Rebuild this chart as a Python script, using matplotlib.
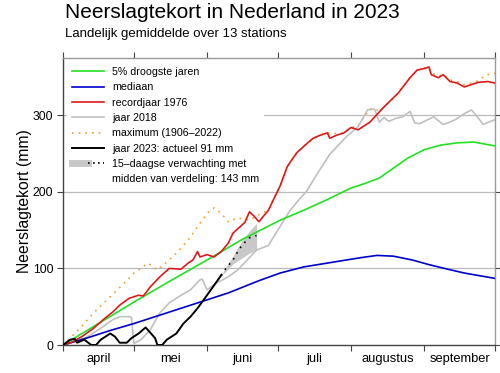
"""Neerslagtekort in Nederland in 2023 - recreated chart."""

import matplotlib
matplotlib.use("Agg")
import matplotlib.pyplot as plt
from matplotlib.lines import Line2D
from matplotlib.legend_handler import HandlerTuple

plt.rcParams['font.family'] = ['Liberation Sans', 'DejaVu Sans']

# day 0 = 1 april, day 183 = 30 september
month_starts = [0, 30, 61, 91, 122, 153, 183]
month_labels = ['april', 'mei', 'juni', 'juli', 'augustus', 'september']

# 5% droogste jaren
green_d = [0, 15, 30, 45, 61, 76, 92, 102, 112, 122, 128, 134, 140, 146, 153, 160, 167, 174, 183]
green_v = [0, 28, 56, 83, 111, 138, 163, 176, 190, 205, 211, 218, 231, 244, 255, 261, 264, 265, 260]

# mediaan
blue_d = [0, 10, 20, 30, 41, 50, 61, 70, 83, 92, 102, 110, 118, 126, 133, 140, 148, 155, 163, 170, 183]
blue_v = [0, 9, 19, 28, 39, 48, 59, 68, 84, 94, 102, 106, 110, 114, 117, 116, 111, 105, 99, 94, 87]

# recordjaar 1976
red_d = [0, 4, 8, 13, 17, 21, 24, 28, 32, 34, 37, 41, 45, 50, 53, 55, 57, 58, 61, 64, 67, 70,
         72, 77, 79, 81, 83, 87, 92, 95, 99, 104, 106, 109, 112, 113, 116, 119, 122, 125, 127,
         130, 136, 142, 147, 150, 153, 155, 156, 159, 161, 164, 167, 170, 173, 176, 180, 183]
red_v = [0, 4, 11, 22, 33, 43, 52, 61, 65, 64, 76, 89, 100, 99, 107, 111, 122, 115, 118, 115, 122, 133,
         146, 160, 174, 168, 161, 176, 208, 233, 251, 265, 270, 274, 277, 270, 274, 277, 284, 281, 285,
         291, 311, 329, 349, 359, 361, 363, 353, 349, 353, 344, 342, 337, 340, 343, 344, 342]

# jaar 2018
gray_d = [0, 5, 10, 13, 17, 21, 24, 28, 29, 30, 33, 37, 41, 45, 50, 54, 58, 59, 61, 65, 70, 74,
          78, 82, 87, 92, 96, 100, 103, 108, 113, 117, 120, 125, 129, 132, 134, 136, 138, 141, 144,
          147, 149, 151, 153, 157, 161, 163, 166, 170, 173, 175, 178, 181, 183]
gray_v = [0, 5, 10, 16, 24, 33, 37, 37, 36, 2, 7, 20, 42, 55, 65, 72, 85, 86, 72, 81, 89, 98,
          111, 124, 130, 155, 175, 190, 200, 225, 249, 262, 272, 285, 307, 308, 291, 297, 292, 296, 298,
          305, 290, 289, 292, 298, 288, 290, 294, 302, 307, 300, 288, 292, 294]

# maximum (1906-2022)
orange_d = [0, 5, 9, 13, 18, 23, 27, 30, 33, 36, 40, 45, 49, 53, 58, 62, 64, 67, 70, 74, 79, 84, 87,
            92, 95, 99, 104, 106, 109, 112, 116, 119, 122, 125, 128, 130, 132, 134, 136, 142, 147, 150,
            153, 155, 156, 159, 161, 164, 167, 170, 173, 176, 178, 180, 183]
orange_v = [0, 15, 28, 42, 57, 72, 84, 94, 100, 107, 98, 111, 123, 137, 159, 175, 179, 172, 161, 166, 163, 172, 176,
            208, 233, 251, 265, 270, 274, 277, 276, 277, 284, 286, 300, 308, 309, 305, 311, 329, 349, 359,
            361, 363, 356, 351, 353, 346, 344, 340, 342, 345, 350, 353, 355]

# jaar 2023
black_d = [0, 3, 5, 6, 9, 12, 14, 16, 20, 22, 24, 27, 29, 32, 35, 37, 39, 40, 42, 44, 48, 51, 54, 57, 61, 64, 67]
black_v = [0, 7, 8, 3, 7, 0, 0, 7, 15, 11, 3, 3, 9, 15, 23, 16, 9, 0, 0, 7, 15, 28, 37, 48, 65, 78, 91]

# 15-daagse verwachting
fc_d = [67, 69, 72, 74, 76, 79, 82]
fc_med = [91, 100, 111, 122, 131, 140, 143]
fc_lo = [91, 96, 106, 110, 114, 120, 124]
fc_hi = [91, 102, 116, 127, 137, 149, 159]

fig = plt.figure(figsize=(5, 3.73), dpi=100)
ax = fig.add_axes([0.126, 0.075, 0.864, 0.77])

for y in [100, 200, 300]:
    ax.axhline(y, color='#bbbbbb', lw=0.9, zorder=0)

ax.fill_between(fc_d, fc_lo, fc_hi, color='#c8c8c8', lw=0, zorder=1)
ax.plot(orange_d, orange_v, color='#f0a030', lw=1.2, ls=(0, (1, 3)), zorder=2)
ax.plot(gray_d, gray_v, color='#c0c0c0', lw=1.2, zorder=3)
ax.plot(blue_d, blue_v, color='#0000cc', lw=1.2, zorder=4)
ax.plot(green_d, green_v, color='#22e022', lw=1.2, zorder=5)
ax.plot(red_d, red_v, color='#dd1a1a', lw=1.2, zorder=6)
ax.plot(fc_d, fc_med, color='black', lw=1.2, ls=(0, (1, 3)), zorder=7)
ax.plot(black_d, black_v, color='black', lw=1.4, zorder=8)

ax.set_xlim(0, 183)
ax.set_ylim(0, 375)
ax.set_xticks(month_starts)
ax.set_xticklabels([])
mids = [(a + b) / 2 for a, b in zip(month_starts[:-1], month_starts[1:])]
ax.set_xticks(mids, minor=True)
ax.set_xticklabels(month_labels, minor=True)
ax.tick_params(axis='x', which='minor', length=0, labelsize=9.3, pad=6)
ax.tick_params(axis='x', which='major', direction='out', length=4, top=True, color='#444444')
ax.set_yticks([0, 100, 200, 300])
ax.tick_params(axis='y', direction='out', length=4, right=True, labelsize=8.7,
               pad=3, color='#444444')
for side in ['left', 'bottom']:
    ax.spines[side].set_color('#444444')
for side in ['top', 'right']:
    ax.spines[side].set_color('#999999')
for s in ax.spines.values():
    s.set_linewidth(1.0)

ax.set_ylabel('Neerslagtekort (mm)', fontsize=11.3)
ax.yaxis.set_label_coords(-0.072, 0.5)

handles = [
    Line2D([], [], color='#22e022', lw=1.2),
    Line2D([], [], color='#0000cc', lw=1.2),
    Line2D([], [], color='#dd1a1a', lw=1.2),
    Line2D([], [], color='#c0c0c0', lw=1.2),
    Line2D([], [], color='#f0a030', lw=1.2, ls=(0, (1, 3))),
    Line2D([], [], color='black', lw=1.4),
    (Line2D([], [], color='#c8c8c8', lw=5),
     Line2D([], [], color='black', lw=1.2, ls=(0, (1, 2)))),
    Line2D([], [], color='none'),
]
labels = ['5% droogste jaren', 'mediaan', 'recordjaar 1976', 'jaar 2018',
          'maximum (1906–2022)', 'jaar 2023: actueel 91 mm',
          '15–daagse verwachting met', 'midden van verdeling: 143 mm']
leg = ax.legend(handles, labels, loc='upper left', fontsize=7.7, frameon=True,
                facecolor='white', edgecolor='none', framealpha=1,
                handlelength=3.0, handletextpad=0.75, labelspacing=0.5,
                borderaxespad=0.4, borderpad=0.45,
                handler_map={tuple: HandlerTuple(ndivide=None, pad=0)})
leg.set_zorder(10)

fig.text(0.13, 0.952, 'Neerslagtekort in Nederland in 2023', fontsize=15, va='baseline')
fig.text(0.13, 0.901, 'Landelijk gemiddelde over 13 stations', fontsize=9.5, va='baseline')

fig.savefig('out.png', dpi=100)
